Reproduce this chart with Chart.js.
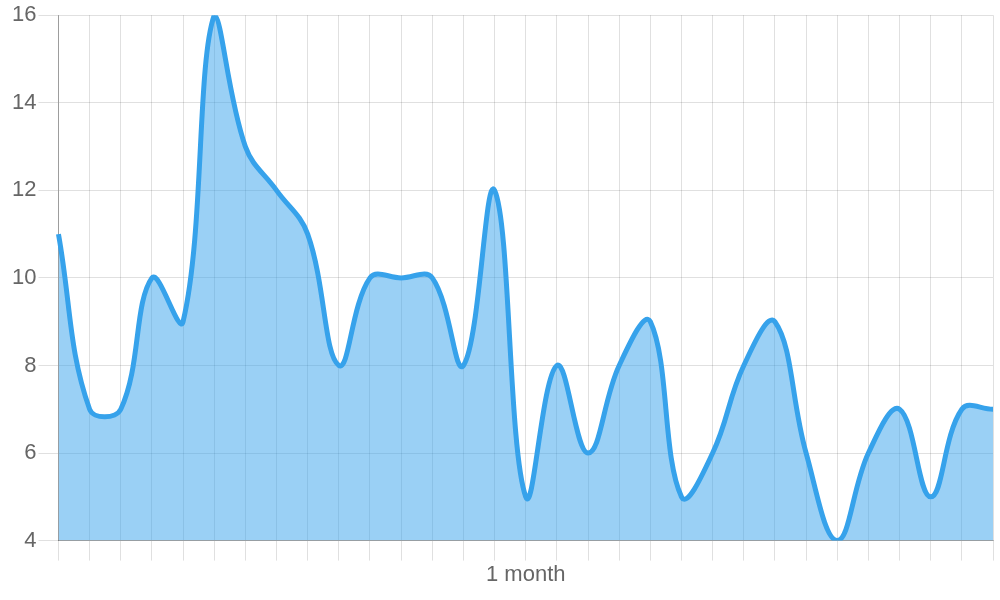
<!DOCTYPE html>
<html>
<head>
<meta charset="utf-8">
<script src="https://cdn.jsdelivr.net/npm/chart.js@4/dist/chart.umd.min.js"></script>
<style>
  html, body { margin: 0; padding: 0; background: #fff; }
  #wrap { width: 1000px; height: 600px; }
</style>
</head>
<body>
<div id="wrap"><canvas id="c" width="1000" height="600"></canvas></div>
<script>
// x labels: only the middle one is shown
const labels = ['', '', '', '', '', '', '', '', '', '', '', '', '', '', '',
  '1 month', '', '', '', '', '', '', '', '', '', '', '', '', '', '', ''];
// series values
const values = [11, 7, 7, 10, 9, 16, 13, 12, 11, 8, 10, 10, 10, 8, 12,
  5, 8, 6, 8, 9, 5, 6, 8, 9, 6, 4, 6, 7, 5, 7, 7];
const yTicks = [4, 6, 8, 10, 12, 14, 16];

const ctx = document.getElementById('c').getContext('2d');
new Chart(ctx, {
  type: 'line',
  data: {
    labels: labels,
    datasets: [{
      data: values,
      borderColor: 'rgb(54,162,235)',
      backgroundColor: 'rgba(54,162,235,0.5)',
      borderWidth: 5,
      pointRadius: 0,
      tension: 0.4,
      fill: 'start'
    }]
  },
  options: {
    responsive: false,
    animation: false,
    layout: { padding: { left: 10, right: 7, top: 0, bottom: 11 } },
    plugins: { legend: { display: false }, tooltip: { enabled: false } },
    scales: {
      x: {
        grid: { color: 'rgba(0,0,0,0.12)', tickLength: 20 },
        border: { color: 'rgba(0,0,0,0.3)' },
        ticks: { autoSkip: false, maxRotation: 0, color: '#666', padding: 1,
          font: { family: 'Liberation Sans', size: 22 } }
      },
      y: {
        min: yTicks[0],
        max: yTicks[yTicks.length - 1],
        grid: { color: 'rgba(0,0,0,0.12)', tickLength: 20 },
        border: { color: 'rgba(0,0,0,0.3)' },
        afterBuildTicks: (axis) => { axis.ticks = yTicks.map(v => ({ value: v })); },
        ticks: { color: '#666', padding: 2,
          font: { family: 'Liberation Sans', size: 22 } }
      }
    }
  }
});
</script>
</body>
</html>
